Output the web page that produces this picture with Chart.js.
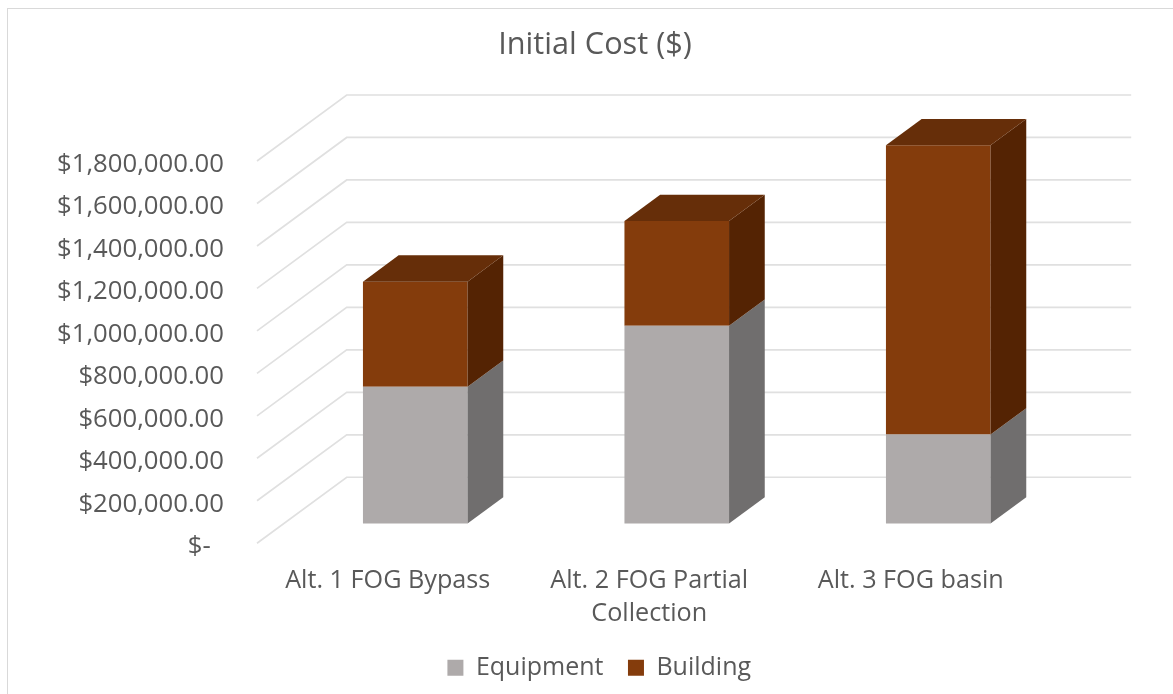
<!DOCTYPE html>
<html>
<head>
<meta charset="utf-8">
<script src="https://cdn.jsdelivr.net/npm/chart.js@4"></script>
<style>
    html, body { margin: 0; padding: 0; background: #fff; overflow: hidden; }
    #frame { position: absolute; left: 7px; top: 8px; width: 1200px; height: 720px; border: 1.5px solid #d9d9d9; box-sizing: border-box; }
    #cost { position: absolute; left: 8px; top: 9px; }
</style>
</head>
<body>
<div id="frame"></div>
<canvas id="cost" width="1174" height="685"></canvas>
<script>
const categories = ['Alt. 1 FOG Bypass', ['Alt. 2 FOG Partial', 'Collection'], 'Alt. 3 FOG basin'];
const equipment = [644000, 931000, 419000];
const building = [495000, 494000, 1362000];

const FONT = '"Open Sans", sans-serif';
const TEXT_COLOR = '#595959';
const GRID_COLOR = '#e0e0e0';

// full depth of the floor, and how far the bars sit back from the front edge
const WALL_DX = 89.7, WALL_DY = 66;
const BAR_DX = 27.5, BAR_DY = 19.7;
const BAR_DEPTH_X = 35.7, BAR_DEPTH_Y = 26.3;

const sideColors = ['#706e6e', '#542303'];
const topColors = ['#85827f', '#662e09'];

function money(value) {
    if (value === 0) return '$-  ';
    return '$' + value.toLocaleString('en-US', { minimumFractionDigits: 2 });
}

function shiftBox(box, dx) {
    box.left += dx;
    box.right += dx;
}

const depth3d = {
    id: 'depth3d',
    afterLayout(chart) {
        // title and legend centre on the whole frame, not on the plot's left-hand boxes
        shiftBox(chart.titleBlock, 70.25);
        shiftBox(chart.legend, 74.5);
    },
    beforeDatasetsDraw(chart) {
        const ctx = chart.ctx, yScale = chart.scales.y, area = chart.chartArea;
        ctx.save();
        ctx.strokeStyle = GRID_COLOR;
        ctx.lineWidth = 1.7;
        yScale.ticks.forEach(tick => {
            const y = yScale.getPixelForValue(tick.value);
            ctx.beginPath();
            ctx.moveTo(area.left, y);
            ctx.lineTo(area.left + WALL_DX, y - WALL_DY);
            ctx.lineTo(area.right + WALL_DX, y - WALL_DY);
            ctx.stroke();
        });
        ctx.restore();
        // front faces get drawn by the library inside this offset
        ctx.save();
        ctx.translate(BAR_DX, -BAR_DY);
    },
    afterDatasetsDraw(chart) {
        const ctx = chart.ctx;
        chart.data.datasets.forEach((ds, d) => {
            chart.getDatasetMeta(d).data.forEach(bar => {
                const right = bar.x + bar.width / 2;
                const left = bar.x - bar.width / 2;
                ctx.fillStyle = sideColors[d];
                ctx.beginPath();
                ctx.moveTo(right, bar.base);
                ctx.lineTo(right + BAR_DEPTH_X, bar.base - BAR_DEPTH_Y);
                ctx.lineTo(right + BAR_DEPTH_X, bar.y - BAR_DEPTH_Y);
                ctx.lineTo(right, bar.y);
                ctx.closePath();
                ctx.fill();
                if (d === chart.data.datasets.length - 1) {
                    ctx.fillStyle = topColors[d];
                    ctx.beginPath();
                    ctx.moveTo(left, bar.y);
                    ctx.lineTo(left + BAR_DEPTH_X, bar.y - BAR_DEPTH_Y);
                    ctx.lineTo(right + BAR_DEPTH_X, bar.y - BAR_DEPTH_Y);
                    ctx.lineTo(right, bar.y);
                    ctx.closePath();
                    ctx.fill();
                }
            });
        });
        ctx.restore();
    }
};

new Chart(document.getElementById('cost'), {
    type: 'bar',
    data: {
        labels: categories,
        datasets: [
            { label: 'Equipment', data: equipment, backgroundColor: '#aeaaaa', clip: false },
            { label: 'Building', data: building, backgroundColor: '#843c0c', clip: false }
        ]
    },
    options: {
        responsive: false,
        animation: false,
        barPercentage: 0.4,
        categoryPercentage: 1,
        layout: { padding: { left: 0, right: 140.5, top: 0, bottom: 3.75 } },
        plugins: {
            title: {
                display: true,
                text: 'Initial Cost ($)',
                color: TEXT_COLOR,
                font: { family: FONT, size: 30.7, weight: 'normal', lineHeight: 1.2 },
                padding: { top: 17.6, bottom: 97.56 }
            },
            legend: {
                position: 'bottom',
                labels: {
                    color: TEXT_COLOR,
                    font: { family: FONT, size: 25 },
                    boxWidth: 16,
                    boxHeight: 16,
                    padding: 24.5
                }
            },
            tooltip: { enabled: false }
        },
        scales: {
            x: {
                stacked: true,
                border: { display: false },
                grid: { display: false, drawTicks: false },
                ticks: {
                    color: TEXT_COLOR,
                    font: { family: FONT, size: 25.2, lineHeight: 33 / 25.2 },
                    padding: 21.5,
                    maxRotation: 0,
                    autoSkip: false
                },
                afterFit(scale) { scale.height = 87.5; }
            },
            y: {
                stacked: true,
                min: 0,
                max: 1800000,
                border: { display: false },
                grid: { display: false, drawTicks: false },
                ticks: {
                    stepSize: 200000,
                    color: TEXT_COLOR,
                    font: { family: FONT, size: 25.7 },
                    padding: 33,
                    labelOffset: 3.5,
                    callback: money
                },
                afterFit(scale) { scale.width = 249; }
            }
        }
    },
    plugins: [depth3d]
});
</script>
</body>
</html>
